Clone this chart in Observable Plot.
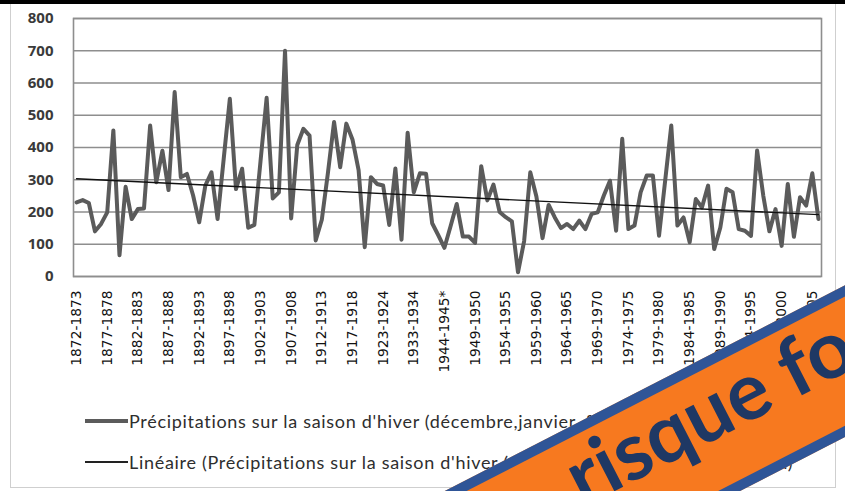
<!DOCTYPE html>
<html><head><meta charset="utf-8">
<script src="https://cdn.jsdelivr.net/npm/d3@7"></script>
<script src="https://cdn.jsdelivr.net/npm/@observablehq/plot@0.6"></script>
<style>
html,body{margin:0;padding:0;background:#fff;}
#wrap{position:relative;width:845px;height:491px;overflow:hidden;background:#fff;}
#topbar{position:absolute;left:0;top:0;width:845px;height:4px;background:#000;}
#box{position:absolute;left:10px;top:0;width:826px;height:488px;border:1px solid #cfcfcf;box-sizing:border-box;}
#chart{position:absolute;left:0;top:0;}
.leg{position:absolute;left:85px;height:22px;display:flex;align-items:center;white-space:nowrap;font-family:Lato,sans-serif;font-size:18px;letter-spacing:0.7px;color:#2e2e2e;}
.sw{width:43px;margin-right:1px;}
#banner{position:absolute;left:400px;top:514px;width:800px;height:135px;background:#f7791f;border-top:10px solid #2f5597;border-bottom:10px solid #2f5597;box-sizing:border-box;transform-origin:0 0;transform:rotate(-27.2deg);}
#banner span{position:absolute;left:166px;top:-3px;font-family:Lato,sans-serif;font-weight:700;font-size:80px;line-height:80px;color:#1f3864;white-space:nowrap;}
</style></head>
<body><div id="wrap">
<div id="box"></div>
<div id="chart"></div>
<div class="leg" id="leg1" style="top:410px"><div class="sw" style="height:4px;background:#5b5b5b"></div><span id="l1"></span></div>
<div class="leg" id="leg2" style="top:451px"><div class="sw" style="height:1.5px;background:#222"></div><span id="l2"></span></div>
<div id="banner"><span id="bt"></span></div>
<div id="topbar"></div>
</div>
<script>
const categories = [
"1872-1873","1873-1874","1874-1875","1875-1876","1876-1877","1877-1878","1878-1879","1879-1880","1880-1881","1881-1882",
"1882-1883","1883-1884","1884-1885","1885-1886","1886-1887","1887-1888","1888-1889","1889-1890","1890-1891","1891-1892",
"1892-1893","1893-1894","1894-1895","1895-1896","1896-1897","1897-1898","1898-1899","1899-1900","1900-1901","1901-1902",
"1902-1903","1903-1904","1904-1905","1905-1906","1906-1907","1907-1908","1908-1909","1909-1910","1910-1911","1911-1912",
"1912-1913","1913-1914","1914-1915","1915-1916","1916-1917","1917-1918","1918-1919","1919-1920","1920-1921","1921-1922",
"1923-1924","1924-1925","1925-1926","1926-1927","1927-1928","1933-1934","1934-1935","1935-1936","1936-1937","1937-1938",
"1944-1945*","1945-1946","1946-1947","1947-1948","1948-1949","1949-1950","1950-1951","1951-1952","1952-1953","1953-1954",
"1954-1955","1955-1956","1956-1957","1957-1958","1958-1959","1959-1960","1960-1961","1961-1962","1962-1963","1963-1964",
"1964-1965","1965-1966","1966-1967","1967-1968","1968-1969","1969-1970","1970-1971","1971-1972","1972-1973","1973-1974",
"1974-1975","1975-1976","1976-1977","1977-1978","1978-1979","1979-1980","1980-1981","1981-1982","1982-1983","1983-1984",
"1984-1985","1985-1986","1986-1987","1987-1988","1988-1989","1989-1990","1990-1991","1991-1992","1992-1993","1993-1994",
"1994-1995","1995-1996","1996-1997","1997-1998","1998-1999","1999-2000","2000-2001","2001-2002","2002-2003","2003-2004",
"2004-2005","2005-2006"
];
const precipitation = [
230,237,228,140,163,199,453,66,278,178,
209,211,468,292,390,268,572,308,318,252,
168,282,323,178,365,551,271,334,151,160,
357,554,242,261,700,180,408,458,437,112,
176,322,479,339,474,425,330,91,308,287,
282,160,335,114,446,261,320,319,165,128,
89,156,225,124,124,104,342,236,285,200,
184,171,13,110,323,248,119,222,183,150,
163,147,173,147,194,199,251,297,142,427,
147,158,261,313,313,126,297,468,158,183,
106,240,214,282,85,152,272,261,147,142,
126,391,251,140,209,95,287,123,246,220,
320,178
];
// "Linéaire" trend series, read at its two ends
const trendEnds = [303, 192];
const yTicks = [0,100,200,300,400,500,600,700,800];
const xTickEvery = 5;
const seriesName = "Précipitations sur la saison d'hiver (décembre,janvier, février) en mm";
const trendName = "Linéaire (Précipitations sur la saison d'hiver (décembre,janvier, février) en mm)";
const bannerText = "risque fort";

const data = categories.map((c, i) => ({i, c, v: precipitation[i]}));
const trend = [{i: 0, v: trendEnds[0]}, {i: categories.length - 1, v: trendEnds[1]}];
const xTicks = d3.range(0, categories.length, xTickEvery);

const chart = Plot.plot({
  width: 845, height: 388,
  marginLeft: 73, marginRight: 24, marginTop: 18, marginBottom: 112,
  style: {background: "transparent", overflow: "visible", color: "#222"},
  x: {type: "linear", domain: [-0.5, categories.length - 0.5]},
  y: {domain: [0, 800]},
  marks: [
    Plot.gridY(yTicks, {stroke: "#8e8e8e", strokeOpacity: 1, strokeWidth: 1.6}),
    Plot.frame({stroke: "#8e8e8e", strokeWidth: 1.6}),
    Plot.line(data, {x: "i", y: "v", stroke: "#5b5b5b", strokeWidth: 4, strokeLinejoin: "round"}),
    Plot.line(trend, {x: "i", y: "v", stroke: "#111", strokeWidth: 1.4}),
    Plot.axisY({ticks: yTicks, tickSize: 0, tickPadding: 20, fontSize: 15, fontWeight: "bold", fontFamily: "Open Sans", fill: "#3a3a3a", label: null}),
    Plot.axisX({ticks: xTicks, tickFormat: i => categories[i], tickRotate: -90, tickSize: 0, tickPadding: 14, fontSize: 13.8, fontFamily: "DejaVu Sans", fill: "#111", label: null})
  ]
});
document.getElementById("chart").appendChild(chart);
document.getElementById("l1").textContent = seriesName;
document.getElementById("l2").textContent = trendName;
document.getElementById("bt").textContent = bannerText;
</script>
</body></html>
